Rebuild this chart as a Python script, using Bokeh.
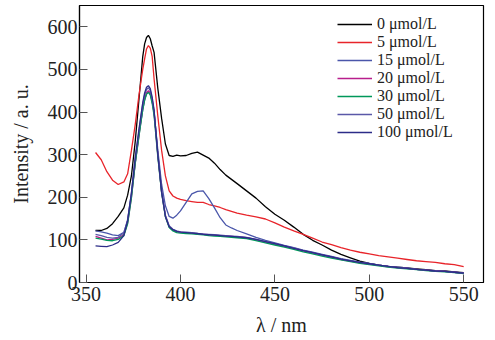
from bokeh.plotting import figure
from bokeh.models import Range1d, Legend, LegendItem, FixedTicker
from bokeh.embed import file_html
from bokeh.resources import INLINE

wl = [355, 358, 361, 364, 367, 370, 372, 374, 376, 378, 380, 381, 382, 383, 384, 385, 386,
      388, 390, 392, 394, 396, 398, 400, 403, 406, 409, 412, 415, 418, 421, 424, 427, 430,
      435, 440, 445, 450, 455, 460, 465, 470, 475, 480, 485, 490, 495, 500, 505, 510, 515,
      520, 525, 530, 535, 540, 545, 550]

s0 = [122, 122, 127, 138, 155, 175, 205, 250, 330, 430, 530, 560, 575, 580, 572, 555, 540,
      455, 385, 325, 298, 296, 299, 297, 298, 303, 306, 299, 292, 280, 265, 252, 242, 232,
      215, 198, 178, 160, 146, 130, 113, 99, 88, 76, 66, 58, 50, 45, 41, 38, 36,
      34, 32, 30, 28, 27, 25, 23]
s5 = [305, 288, 260, 240, 230, 236, 255, 310, 370, 440, 500, 525, 548, 556, 550, 530, 478,
      390, 310, 250, 215, 203, 198, 195, 192, 190, 188, 188, 183, 180, 176, 171, 167, 163,
      158, 154, 149, 140, 130, 121, 113, 104, 95, 89, 82, 76, 71, 67, 63, 60, 57,
      54, 51, 49, 47, 44, 42, 37]
s15 = [121, 119, 116, 112, 110, 118, 145, 205, 280, 350, 405, 428, 442, 448, 442, 425, 398,
       310, 230, 180, 155, 151, 158, 168, 188, 208, 214, 215, 197, 175, 152, 135, 128, 122,
       114, 106, 99, 93, 87, 82, 76, 71, 66, 61, 56, 52, 48, 45, 41, 38, 36,
       34, 31, 29, 28, 26, 24, 22]
s20 = [108, 104, 100, 101, 104, 112, 140, 200, 280, 345, 410, 432, 446, 450, 445, 425, 398,
       298, 212, 156, 131, 123, 119, 118, 116, 116, 114, 113, 112, 111, 110, 109, 108, 107,
       105, 100, 95, 90, 85, 80, 74, 69, 64, 59, 54, 50, 46, 43, 40, 37, 35,
       33, 31, 29, 27, 26, 24, 22]
s30 = [104, 102, 99, 98, 101, 110, 138, 198, 278, 343, 405, 428, 442, 446, 440, 420, 392,
       294, 210, 154, 129, 121, 117, 116, 115, 114, 113, 112, 110, 109, 108, 107, 106, 105,
       103, 98, 93, 88, 83, 78, 72, 67, 62, 57, 53, 49, 45, 42, 39, 36, 34,
       32, 30, 28, 26, 25, 23, 21]
s50 = [113, 110, 106, 104, 106, 116, 148, 210, 290, 355, 418, 440, 453, 457, 450, 430, 403,
       302, 215, 158, 133, 125, 121, 119, 118, 117, 115, 114, 113, 112, 111, 110, 109, 108,
       106, 101, 96, 91, 86, 81, 75, 70, 65, 60, 55, 51, 47, 44, 41, 38, 35,
       33, 31, 29, 27, 26, 24, 22]
s100 = [86, 85, 84, 88, 94, 110, 145, 210, 292, 360, 422, 445, 458, 462, 455, 435, 405,
        300, 212, 155, 131, 124, 120, 118, 117, 116, 115, 113, 112, 111, 110, 109, 108, 107,
        105, 101, 96, 91, 86, 80, 75, 70, 65, 60, 55, 51, 47, 44, 41, 38, 35,
        33, 31, 29, 27, 26, 24, 22]

labels = ["0 \u03bcmol/L", "5 \u03bcmol/L", "15 \u03bcmol/L", "20 \u03bcmol/L",
          "30 \u03bcmol/L", "50 \u03bcmol/L", "100 \u03bcmol/L"]
series = [s0, s5, s15, s20, s30, s50, s100]
colors = ["#000000", "#e8242a", "#4a56aa", "#b81e8c", "#00985a", "#5a58a8", "#2c2c88"]
x_ticks = [350, 400, 450, 500, 550]
y_ticks = [0, 100, 200, 300, 400, 500, 600]

FONT = "Liberation Serif"

p = figure(width=493, height=338, x_range=Range1d(346.5, 560.5), y_range=Range1d(0, 650),
           output_backend="svg", toolbar_location=None,
           min_border_left=79, min_border_right=10, min_border_top=5, min_border_bottom=54)

p.grid.visible = False
p.outline_line_color = "#000000"
p.outline_line_width = 1.2
p.background_fill_color = "#ffffff"
p.border_fill_color = "#ffffff"

items = []
for s, c, lab in zip(series, colors, labels):
    r = p.line(wl, s, line_color=c, line_width=1.3)
    items.append(LegendItem(label=lab, renderers=[r]))

legend = Legend(items=items, location=(258, 141), padding=0, margin=0, spacing=0,
                glyph_width=35, glyph_height=18, label_height=18, label_standoff=5,
                label_text_font=FONT, label_text_font_size="16px", label_text_color="#222222",
                border_line_alpha=0, background_fill_alpha=0)
p.add_layout(legend)

for ax in (p.xaxis[0], p.yaxis[0]):
    ax.axis_line_color = "#000000"
    ax.axis_line_width = 1.2
    ax.major_tick_in = 8
    ax.major_tick_out = 0
    ax.major_tick_line_color = "#555555"
    ax.minor_tick_line_color = None
    ax.major_label_text_font = FONT
    ax.major_label_text_font_size = "20px"
    ax.major_label_text_color = "#222222"
    ax.axis_label_text_font = FONT
    ax.axis_label_text_font_size = "20px"
    ax.axis_label_text_font_style = "normal"
    ax.axis_label_text_color = "#222222"

p.xaxis.ticker = FixedTicker(ticks=x_ticks)
p.yaxis.ticker = FixedTicker(ticks=y_ticks)
p.xaxis.major_label_standoff = 4
p.yaxis.major_label_standoff = 2
p.xaxis.axis_label = "\u03bb / nm"
p.yaxis.axis_label = "Intensity / a. u."
p.xaxis.axis_label_standoff = 10
p.yaxis.axis_label_standoff = 13

open("out.html", "w").write(file_html(p, INLINE))
